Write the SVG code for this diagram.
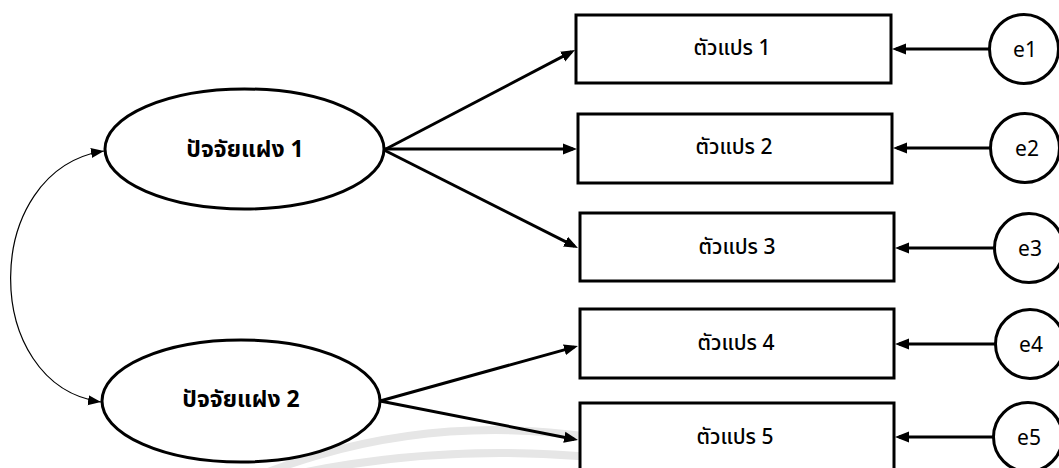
<svg xmlns="http://www.w3.org/2000/svg" width="1059" height="468" viewBox="0 0 1059 468">
<defs>
<style>
.node{fill:#fff;stroke:#000;stroke-width:3}
.lbl{font-family:Tahoma,"Noto Sans Thai","DejaVu Sans","Noto Sans",sans-serif;font-size:21px;fill:#000;text-anchor:middle;dominant-baseline:central}
.var{font-size:21px;font-weight:500}
.lat{font-size:23px;font-weight:bold}
.con{fill:none;stroke:#000;stroke-width:3;marker-end:url(#ah)}
.cov{fill:none;stroke:#000;stroke-width:1.2;marker-start:url(#ahs);marker-end:url(#ahs)}
.wm{fill:none;stroke:#e6e6e6;stroke-width:8}
</style>
<marker id="ah" markerUnits="userSpaceOnUse" markerWidth="14" markerHeight="12" refX="10" refY="6" orient="auto"><path d="M0,0.5 L14,6 L0,11.5 z" fill="#000"/></marker>
<marker id="ahs" markerUnits="userSpaceOnUse" markerWidth="14" markerHeight="11" refX="13" refY="5.5" orient="auto-start-reverse"><path d="M0,0.5 L13,5.5 L0,10.5 z" fill="#000"/></marker>
</defs>
<rect width="1059" height="468" fill="#fff"/>
<path class="wm" d="M 160 525.6 A 635 635 0 0 1 830 525.6"/>
<path class="wm" d="M 250 484.8 A 1000 1000 0 0 1 750 484.8"/>
<g id="connectors">
<path class="con" d="M384,150 L571.5,51.9"/>
<path class="con" d="M384,149 L573,149"/>
<path class="con" d="M384,150 L574.4,246.2"/>
<path class="con" d="M380,401 L574.1,347.1"/>
<path class="con" d="M380,401 L574.1,439.2"/>
<path class="con" d="M989,49 L896,49"/>
<path class="con" d="M990,148 L897,148"/>
<path class="con" d="M994,248 L899,248"/>
<path class="con" d="M995,344 L899,344"/>
<path class="con" d="M993,437 L899,437"/>
<path class="cov" d="M104,151 C -20,170 -20,385 101,402"/>
</g>
<g id="f1"><ellipse class="node" cx="244.5" cy="149" rx="139.5" ry="60"/><text class="lbl lat" x="245" y="150">ปัจจัยแฝง 1</text></g>
<g id="f2"><ellipse class="node" cx="241" cy="401" rx="139" ry="61"/><text class="lbl lat" x="241" y="400">ปัจจัยแฝง 2</text></g>
<g id="v1"><rect class="node" x="576" y="15" width="315" height="68"/><text class="lbl var" x="732" y="48">ตัวแปร 1</text></g>
<g id="v2"><rect class="node" x="578" y="114" width="314" height="69"/><text class="lbl var" x="734" y="147">ตัวแปร 2</text></g>
<g id="v3"><rect class="node" x="580" y="213" width="314" height="68"/><text class="lbl var" x="737" y="247">ตัวแปร 3</text></g>
<g id="v4"><rect class="node" x="580" y="309" width="314" height="69"/><text class="lbl var" x="736" y="343">ตัวแปร 4</text></g>
<g id="v5"><rect class="node" x="580" y="403" width="314" height="80"/><text class="lbl var" x="735" y="437">ตัวแปร 5</text></g>
<g id="e1"><circle class="node" cx="1024" cy="49" r="34.5"/><text class="lbl" x="1025" y="50">e1</text></g>
<g id="e2"><circle class="node" cx="1025" cy="148" r="34.5"/><text class="lbl" x="1027" y="149">e2</text></g>
<g id="e3"><circle class="node" cx="1029" cy="248" r="34.5"/><text class="lbl" x="1030" y="249">e3</text></g>
<g id="e4"><circle class="node" cx="1030" cy="344" r="34.5"/><text class="lbl" x="1031" y="345">e4</text></g>
<g id="e5"><circle class="node" cx="1028" cy="437" r="34.5"/><text class="lbl" x="1029" y="438">e5</text></g>
</svg>
